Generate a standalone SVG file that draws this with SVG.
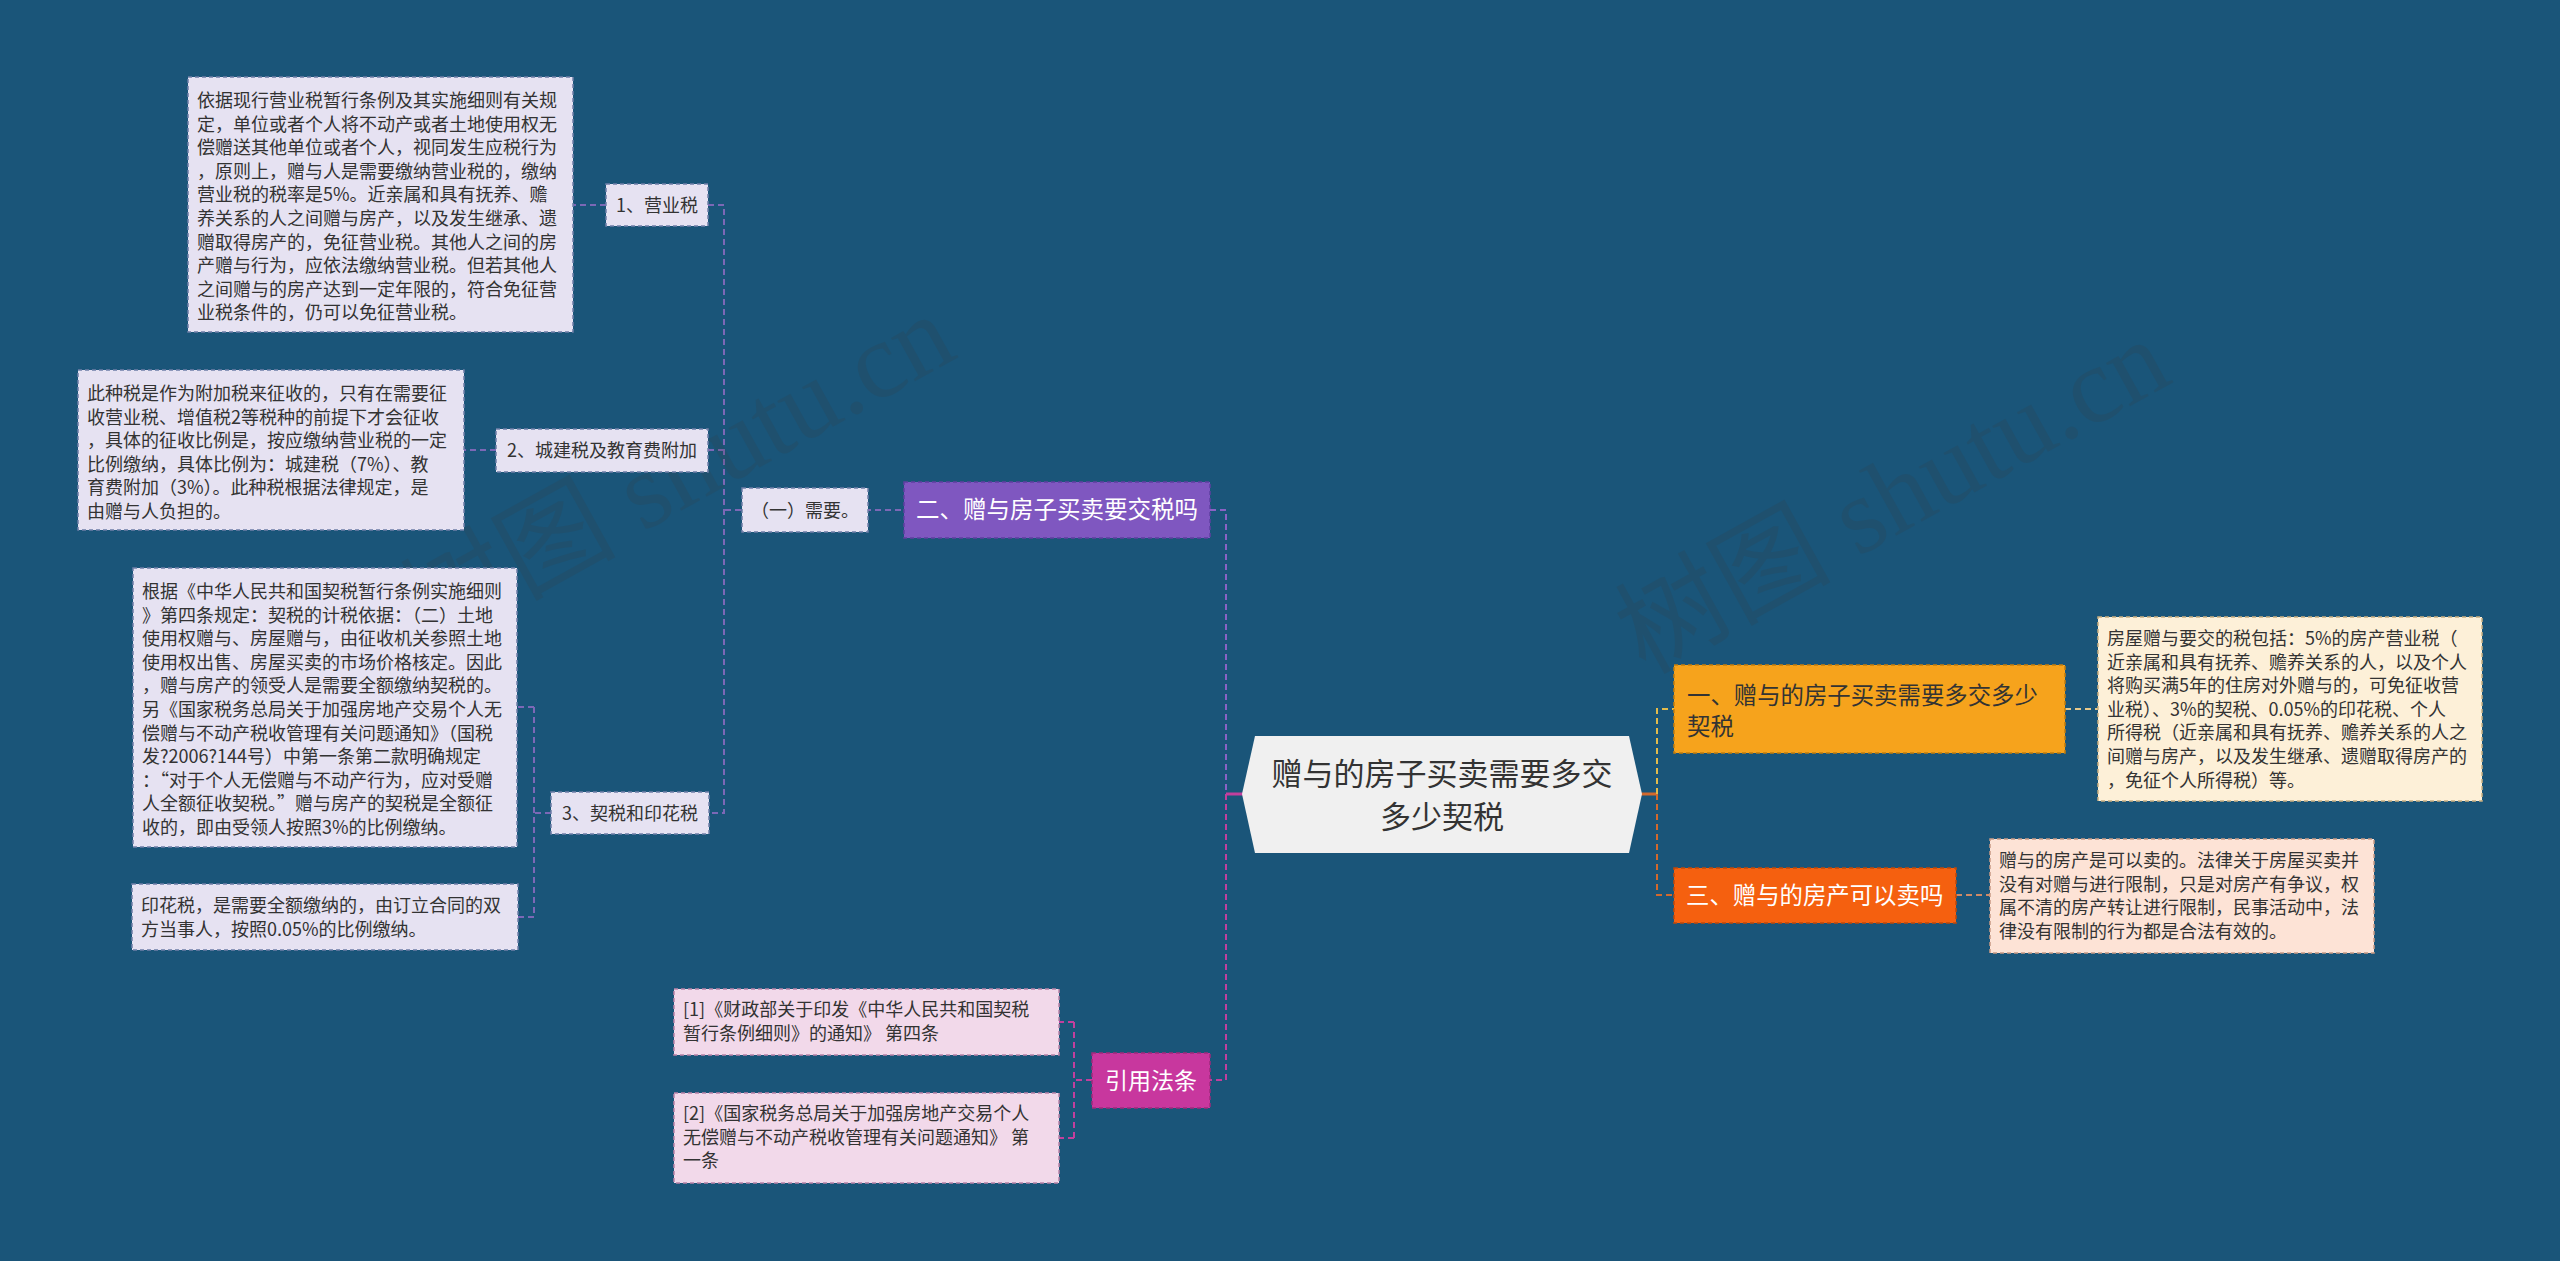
<svg xmlns="http://www.w3.org/2000/svg" width="2560" height="1261" viewBox="0 0 2560 1261">
<style>
text{font-family:"Noto Sans CJK SC","Noto Sans",sans-serif;}
.body{font-size:18px;fill:#333;}
.lbl{font-size:18px;fill:#333;}
.lav{fill:#e6e2f2;stroke:#6f7fa8;stroke-width:1.5;stroke-dasharray:4 3;}
.pink{fill:#f2d9ea;stroke:#b882a8;stroke-width:1.5;stroke-dasharray:4 3;}
.cream{fill:#fdf0d8;stroke:#c9ae80;stroke-width:1.5;stroke-dasharray:4 3;}
.peach{fill:#fde3d6;stroke:#c99a85;stroke-width:1.5;stroke-dasharray:4 3;}
.c{fill:none;stroke-width:2;stroke-dasharray:6 4;}
.wm{font-family:"Liberation Serif","Noto Sans CJK SC",serif;font-size:108px;fill:#3a3a3a;opacity:0.16;}
</style>
<rect width="2560" height="1261" fill="#1a5579"/>

<g id="connectors">
  <path class="c" stroke="#7c68b6" d="M865,510 H904"/>
  <path class="c" stroke="#7c68b6" d="M741,510 H724"/>
  <path class="c" stroke="#7c68b6" d="M708,205 H724 V813 H709 M708,450 H724"/>
  <path class="c" stroke="#7c68b6" d="M606,205 H573"/>
  <path class="c" stroke="#7c68b6" d="M496,450 H464"/>
  <path class="c" stroke="#7c68b6" d="M551,813 H534 M534,707 V917 M534,707 H517 M534,917 H518"/>
  <path class="c" stroke="#8a62c4" d="M1210,510 H1226 V794"/>
  <path class="c" stroke="#c23f9d" d="M1226,794 V1080 H1210"/>
  <path d="M1243,794 H1226" stroke="#c23f9d" stroke-width="3" fill="none"/>
  <path class="c" stroke="#c23f9d" d="M1092,1080 H1074 M1074,1022 V1138 M1074,1022 H1059 M1074,1138 H1059"/>
  <path d="M1641,794 H1657" stroke="#d3692c" stroke-width="3" fill="none"/>
  <path class="c" stroke="#e2bb4c" d="M1657,794 V709 H1674"/>
  <path class="c" stroke="#d3692c" d="M1657,794 V895 H1674"/>
  <path class="c" stroke="#e6c88a" d="M2065,709 H2098"/>
  <path class="c" stroke="#cf8a66" d="M1956,895 H1990"/>
</g>

<g id="watermark">
  <text class="wm" transform="translate(430,650) rotate(-29)">树图 shutu.cn</text>
  <text class="wm" transform="translate(1645,675) rotate(-29)">树图 shutu.cn</text>
</g>

<g id="center">
  <polygon points="1242,794 1255,736 1629,736 1642,794 1629,853 1255,853" fill="#f0f0f0"/>
  <text x="1442" y="785" font-size="31" fill="#333" text-anchor="middle">赠与的房子买卖需要多交</text>
  <text x="1442" y="828" font-size="31" fill="#333" text-anchor="middle">多少契税</text>
</g>

<g id="n-branch2">
  <rect x="904" y="482" width="306" height="56" fill="#7f57c0" stroke="#5f3fa0" stroke-width="1.5" stroke-dasharray="4 3"/>
  <text x="1057" y="518" font-size="23.5" fill="#fff" text-anchor="middle">二、赠与房子买卖要交税吗</text>
</g>

<g id="n-need">
  <rect x="742" y="488" width="126" height="44" class="lav"/>
  <text x="805" y="516.5" class="lbl" text-anchor="middle">（一）需要。</text>
</g>

<g id="n-yys">
  <rect x="606" y="184" width="102" height="42" class="lav"/>
  <text x="657" y="211.5" class="lbl" text-anchor="middle">1、营业税</text>
</g>

<g id="n-yys-text">
  <rect x="188" y="77" width="385" height="255" class="lav"/>
  <text class="body" x="197" y="107">依据现行营业税暂行条例及其实施细则有关规<tspan x="197" dy="23.6">定，单位或者个人将不动产或者土地使用权无</tspan><tspan x="197" dy="23.6">偿赠送其他单位或者个人，视同发生应税行为</tspan><tspan x="197" dy="23.6">，原则上，赠与人是需要缴纳营业税的，缴纳</tspan><tspan x="197" dy="23.6">营业税的税率是5%。近亲属和具有抚养、赡</tspan><tspan x="197" dy="23.6">养关系的人之间赠与房产，以及发生继承、遗</tspan><tspan x="197" dy="23.6">赠取得房产的，免征营业税。其他人之间的房</tspan><tspan x="197" dy="23.6">产赠与行为，应依法缴纳营业税。但若其他人</tspan><tspan x="197" dy="23.6">之间赠与的房产达到一定年限的，符合免征营</tspan><tspan x="197" dy="23.6">业税条件的，仍可以免征营业税。</tspan></text>
</g>

<g id="n-cjs">
  <rect x="496" y="429" width="212" height="43" class="lav"/>
  <text x="602" y="457" class="lbl" text-anchor="middle">2、城建税及教育费附加</text>
</g>

<g id="n-cjs-text">
  <rect x="78" y="370" width="386" height="160" class="lav"/>
  <text class="body" x="87" y="400">此种税是作为附加税来征收的，只有在需要征<tspan x="87" dy="23.6">收营业税、增值税2等税种的前提下才会征收</tspan><tspan x="87" dy="23.6">，具体的征收比例是，按应缴纳营业税的一定</tspan><tspan x="87" dy="23.6">比例缴纳，具体比例为：城建税（7%）、教</tspan><tspan x="87" dy="23.6">育费附加（3%）。此种税根据法律规定，是</tspan><tspan x="87" dy="23.6">由赠与人负担的。</tspan></text>
</g>

<g id="n-qs">
  <rect x="551" y="792" width="158" height="42" class="lav"/>
  <text x="630" y="819.5" class="lbl" text-anchor="middle">3、契税和印花税</text>
</g>

<g id="n-qs-text">
  <rect x="133" y="568" width="384" height="279" class="lav"/>
  <text class="body" x="142" y="598">根据《中华人民共和国契税暂行条例实施细则<tspan x="142" dy="23.6">》第四条规定：契税的计税依据：（二）土地</tspan><tspan x="142" dy="23.6">使用权赠与、房屋赠与，由征收机关参照土地</tspan><tspan x="142" dy="23.6">使用权出售、房屋买卖的市场价格核定。因此</tspan><tspan x="142" dy="23.6">，赠与房产的领受人是需要全额缴纳契税的。</tspan><tspan x="142" dy="23.6">另《国家税务总局关于加强房地产交易个人无</tspan><tspan x="142" dy="23.6">偿赠与不动产税收管理有关问题通知》（国税</tspan><tspan x="142" dy="23.6">发?2006?144号）中第一条第二款明确规定</tspan><tspan x="142" dy="23.6">：“对于个人无偿赠与不动产行为，应对受赠</tspan><tspan x="142" dy="23.6">人全额征收契税。”赠与房产的契税是全额征</tspan><tspan x="142" dy="23.6">收的，即由受领人按照3%的比例缴纳。</tspan></text>
</g>

<g id="n-yhs-text">
  <rect x="132" y="884" width="386" height="66" class="lav"/>
  <text class="body" x="141" y="912">印花税，是需要全额缴纳的，由订立合同的双<tspan x="141" dy="23.6">方当事人，按照0.05%的比例缴纳。</tspan></text>
</g>

<g id="n-cite">
  <rect x="1092" y="1053" width="118" height="55" fill="#c8379e" stroke="#9e2a7c" stroke-width="1.5" stroke-dasharray="4 3"/>
  <text x="1151" y="1088.5" font-size="23" fill="#fff" text-anchor="middle">引用法条</text>
</g>

<g id="n-cite1">
  <rect x="674" y="989" width="385" height="66" class="pink"/>
  <text class="body" x="683" y="1016">[1]《财政部关于印发《中华人民共和国契税<tspan x="683" dy="23.6">暂行条例细则》的通知》 第四条</tspan></text>
</g>

<g id="n-cite2">
  <rect x="674" y="1093" width="385" height="90" class="pink"/>
  <text class="body" x="683" y="1120">[2]《国家税务总局关于加强房地产交易个人<tspan x="683" dy="23.6">无偿赠与不动产税收管理有关问题通知》 第</tspan><tspan x="683" dy="23.6">一条</tspan></text>
</g>

<g id="n-branch1">
  <rect x="1674" y="665" width="391" height="88" fill="#f6a31c" stroke="#c27d0c" stroke-width="1.5" stroke-dasharray="4 3"/>
  <text x="1687" y="703.5" font-size="23.4" fill="#333">一、赠与的房子买卖需要多交多少<tspan x="1687" dy="31.5">契税</tspan></text>
</g>

<g id="n-branch1-text">
  <rect x="2098" y="617" width="384" height="184" class="cream"/>
  <text class="body" x="2107" y="645">房屋赠与要交的税包括：5%的房产营业税（<tspan x="2107" dy="23.6">近亲属和具有抚养、赡养关系的人，以及个人</tspan><tspan x="2107" dy="23.6">将购买满5年的住房对外赠与的，可免征收营</tspan><tspan x="2107" dy="23.6">业税）、3%的契税、0.05%的印花税、个人</tspan><tspan x="2107" dy="23.6">所得税（近亲属和具有抚养、赡养关系的人之</tspan><tspan x="2107" dy="23.6">间赠与房产，以及发生继承、遗赠取得房产的</tspan><tspan x="2107" dy="23.6">，免征个人所得税）等。</tspan></text>
</g>

<g id="n-branch3">
  <rect x="1674" y="868" width="282" height="55" fill="#f5600f" stroke="#c0480a" stroke-width="1.5" stroke-dasharray="4 3"/>
  <text x="1686" y="904" font-size="23.4" fill="#fff">三、赠与的房产可以卖吗</text>
</g>

<g id="n-branch3-text">
  <rect x="1990" y="839" width="384" height="114" class="peach"/>
  <text class="body" x="1999" y="867">赠与的房产是可以卖的。法律关于房屋买卖并<tspan x="1999" dy="23.6">没有对赠与进行限制，只是对房产有争议，权</tspan><tspan x="1999" dy="23.6">属不清的房产转让进行限制，民事活动中，法</tspan><tspan x="1999" dy="23.6">律没有限制的行为都是合法有效的。</tspan></text>
</g>
</svg>
